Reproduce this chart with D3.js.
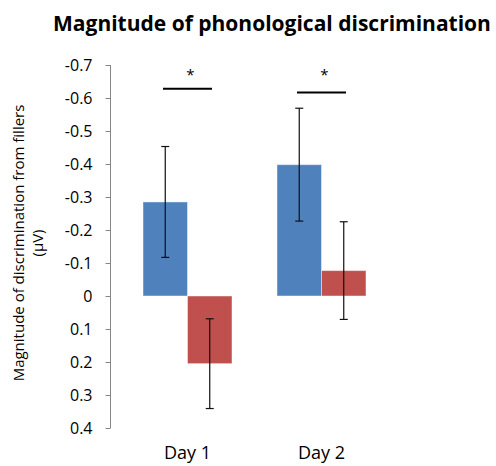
<!DOCTYPE html>
<html>
<head>
<meta charset="utf-8">
<script src="https://cdn.jsdelivr.net/npm/d3@7"></script>
<style>
  body { margin: 0; background: #fff; }
  text { font-family: "Open Sans", Lato, sans-serif; fill: #000; }
</style>
</head>
<body>
<script>
// chart values
var days = ["Day 1", "Day 2"];
var series = ["A", "B"];
var blueVals = [-0.285, -0.398];
var redVals = [0.205, -0.077];
var blueErr = [0.168, 0.171];
var redErr = [0.136, 0.148];
var yTicks = [-0.7, -0.6, -0.5, -0.4, -0.3, -0.2, -0.1, 0, 0.1, 0.2, 0.3, 0.4];
// significance bars: level (axis units) and star per day
var sigLevel = [-0.628, -0.617];
var sigLabel = ["*", "*"];

var colors = {A: "#4F81BD", B: "#C0504D"};

var width = 496, height = 466;
var svg = d3.select("body").append("svg")
    .attr("width", width)
    .attr("height", height);

var yScale = d3.scaleLinear().domain([-0.7, 0.4]).range([65, 428]);

var xScale = d3.scaleBand().domain(days)
    .range([120.5, 388.5])
    .paddingInner(0.336)
    .paddingOuter(0.168);

var xInner = d3.scaleBand().domain(series).range([0, xScale.bandwidth()]);

var data = [];
for (var i = 0; i < days.length; i++) {
  data.push({day: days[i], s: "A", v: blueVals[i], e: blueErr[i]});
  data.push({day: days[i], s: "B", v: redVals[i], e: redErr[i]});
}

// y axis (plain hyphen for negatives like the original)
var yAxis = svg.append("g")
    .attr("transform", "translate(110.5,0)")
    .call(d3.axisLeft(yScale).tickValues(yTicks).tickSize(5).tickPadding(13)
      .tickFormat(function(d) { return d === 0 ? "0" : d3.format(".1f")(d).replace("\u2212", "-"); }));
yAxis.select(".domain").attr("stroke", "#868686").attr("d", "M0," + yScale(-0.7) + "V" + yScale(0.4));
yAxis.selectAll(".tick line").attr("stroke", "#868686");
yAxis.selectAll(".tick text").style("font-size", "16px").style("font-family", "\"Open Sans\", sans-serif").attr("fill", "#000");

// bars
svg.selectAll("rect.bar").data(data).enter().append("rect")
    .attr("class", "bar")
    .attr("x", function(d) { return xScale(d.day) + xInner(d.s); })
    .attr("width", xInner.bandwidth())
    .attr("y", function(d) { return Math.min(yScale(d.v), yScale(0)); })
    .attr("height", function(d) { return Math.abs(yScale(d.v) - yScale(0)); })
    .attr("fill", function(d) { return colors[d.s]; })
    .attr("stroke", "#ffffff")
    .attr("stroke-opacity", 0.45)
    .attr("stroke-width", 1);

// error bars
var eb = svg.selectAll("g.err").data(data).enter().append("g").attr("class", "err");
function cx(d) { return xScale(d.day) + xInner(d.s) + xInner.bandwidth() / 2; }
eb.append("line")
    .attr("x1", cx).attr("x2", cx)
    .attr("y1", function(d) { return yScale(d.v - d.e); })
    .attr("y2", function(d) { return yScale(d.v + d.e); })
    .attr("stroke", "#111").attr("stroke-width", 1.2);
[-1, 1].forEach(function(sign) {
  eb.append("line")
      .attr("x1", function(d) { return cx(d) - 4; })
      .attr("x2", function(d) { return cx(d) + 4; })
      .attr("y1", function(d) { return yScale(d.v + sign * d.e); })
      .attr("y2", function(d) { return yScale(d.v + sign * d.e); })
      .attr("stroke", "#111").attr("stroke-width", 1.2);
});

// significance lines and stars
days.forEach(function(day, i) {
  var mid = xScale(day) + xScale.bandwidth() / 2;
  svg.append("line")
      .attr("x1", mid - 24.5).attr("x2", mid + 24.5)
      .attr("y1", yScale(sigLevel[i])).attr("y2", yScale(sigLevel[i]))
      .attr("stroke", "#000").attr("stroke-width", 2);
  svg.append("text")
      .attr("x", mid + 3).attr("y", yScale(-0.685) + 10)
      .attr("text-anchor", "middle")
      .style("font-size", "15px")
      .text(sigLabel[i]);
});

// category labels
svg.selectAll("text.day").data(days).enter().append("text")
    .attr("class", "day")
    .attr("x", function(d) { return xScale(d) + xScale.bandwidth() / 2; })
    .attr("y", 459)
    .attr("text-anchor", "middle")
    .style("font-size", "18px")
    .text(function(d) { return d; });

// title
svg.append("text")
    .attr("x", 272).attr("y", 31)
    .attr("text-anchor", "middle")
    .style("font-size", "21px").style("font-weight", "bold")
    .text("Magnitude of phonological discrimination");

// y label, two lines
var yl = svg.append("text")
    .attr("transform", "translate(0,243) rotate(-90)")
    .attr("text-anchor", "middle")
    .style("font-size", "15px");
yl.append("tspan").attr("x", 0).attr("y", 24).text("Magnitude of discrimination from fillers");
yl.append("tspan").attr("x", 0).attr("y", 43).text("(\u03bcV)");
</script>
</body>
</html>
